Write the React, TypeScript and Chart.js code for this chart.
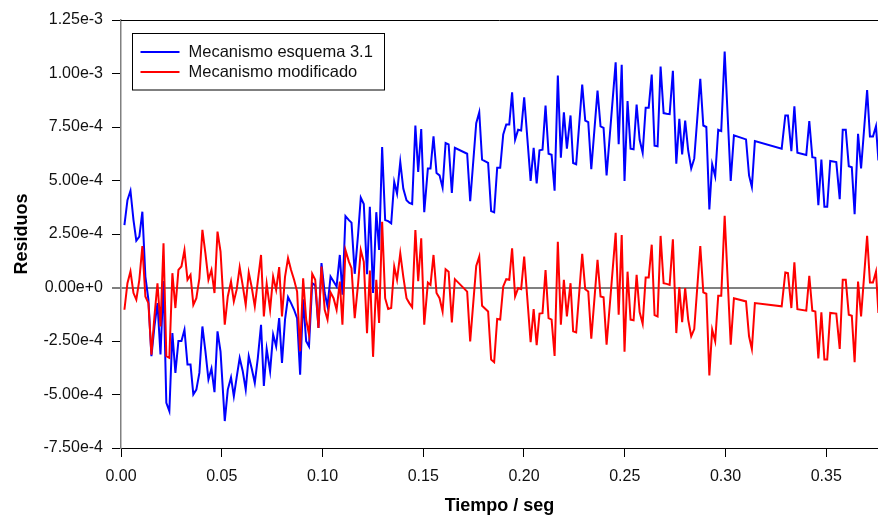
import React, { useEffect, useRef } from "react";
import { Chart, registerables } from "chart.js";

Chart.register(...registerables);

// Tiempo (s)
const tiempo = [
  0.0017, 0.0032, 0.0047, 0.0062, 0.0076, 0.0091, 0.0106, 0.0121, 0.0136, 0.0151,
  0.0166, 0.0181, 0.0196, 0.0211, 0.0225, 0.024, 0.0255, 0.027, 0.0285, 0.03,
  0.0315, 0.033, 0.0345, 0.0359, 0.0374, 0.0389, 0.0404, 0.0419, 0.0434, 0.0449,
  0.0464, 0.0479, 0.0494, 0.0515, 0.053, 0.0546, 0.056, 0.0574, 0.0589, 0.0604,
  0.0619, 0.0634, 0.0649, 0.0664, 0.0679, 0.0695, 0.0709, 0.0723, 0.074, 0.0755,
  0.077, 0.0785, 0.0799, 0.0814, 0.0829, 0.0844, 0.0859, 0.0874, 0.0889, 0.0904,
  0.0919, 0.0933, 0.0949, 0.0964, 0.098, 0.0995, 0.1011, 0.1025, 0.104, 0.1055,
  0.107, 0.1086, 0.1099, 0.1114, 0.1131, 0.1144, 0.116, 0.1177, 0.119, 0.1205,
  0.1221, 0.1235, 0.1251, 0.1267, 0.1281, 0.1296, 0.1311, 0.1326, 0.1341, 0.1356,
  0.137, 0.1386, 0.1401, 0.1417, 0.1431, 0.1445, 0.1461, 0.1475, 0.149, 0.1505,
  0.1523, 0.1536, 0.1551, 0.1566, 0.1581, 0.1596, 0.1611, 0.1626, 0.1642, 0.1657,
  0.1718, 0.1733, 0.1763, 0.1778, 0.1792, 0.1822, 0.1837, 0.1852, 0.1867, 0.1882,
  0.1897, 0.1912, 0.1927, 0.1941, 0.1956, 0.1971, 0.1986, 0.2001, 0.2033, 0.2048,
  0.2063, 0.2077, 0.2092, 0.2107, 0.2122, 0.2137, 0.2152, 0.2168, 0.2183, 0.2198,
  0.2213, 0.2231, 0.2244, 0.2259, 0.2289, 0.2304, 0.2319, 0.2334, 0.2365, 0.238,
  0.2395, 0.241, 0.2455, 0.247, 0.2485, 0.2499, 0.2514, 0.2529, 0.2544, 0.2559,
  0.2574, 0.2589, 0.2604, 0.2619, 0.2634, 0.2648, 0.2663, 0.2678, 0.2693, 0.2708,
  0.2723, 0.2739, 0.2756, 0.2771, 0.2785, 0.28, 0.2815, 0.283, 0.2845, 0.2875,
  0.289, 0.2905, 0.292, 0.2934, 0.2949, 0.2964, 0.2979, 0.2996, 0.3026, 0.3042,
  0.3102, 0.3117, 0.3131, 0.3146, 0.3279, 0.3297, 0.331, 0.3327, 0.3342, 0.3357,
  0.3401, 0.3416, 0.3431, 0.3446, 0.3461, 0.3476, 0.3491, 0.3505, 0.352, 0.355,
  0.3567, 0.3582, 0.3597, 0.3612, 0.3627, 0.3641, 0.3658, 0.3673, 0.3703, 0.3717,
  0.3732, 0.3747, 0.3759,
];

// Residuos, en unidades de 1e-4
const esquema31 = [
  2.92, 4.08, 4.52, 3.15, 2.19, 2.38, 3.54, 0.51, -0.57, -3.21,
  -1.82, -0.73, -3.13, 0.3, -5.39, -5.78, -2.13, -3.99, -2.5, -2.5,
  -1.97, -3.6, -3.6, -5.0, -4.77, -3.99, -1.82, -2.98, -4.3, -3.79,
  -4.89, -2.05, -3.0, -6.24, -4.77, -4.2, -5.08, -4.2, -3.29, -3.9,
  -4.77, -3.21, -3.8, -4.46, -3.3, -1.74, -4.6, -2.87, -3.91, -2.2,
  -2.75, -1.43, -3.52, -1.5, -0.45, -0.73, -1.04, -1.43, -4.07, -0.55,
  -2.51, -2.75, 0.2, 0.1, -1.89, 1.14, -0.26, -0.88, 0.51, 0.28,
  0.05, 1.52, -0.34, 3.34, 3.15, 3.03, 0.64, 2.53, 4.2, 3.9,
  0.62, 3.77, -0.26, 3.52, 1.75, 6.56, 3.15, 3.1, 3.0, 4.93,
  4.39, 5.87, 4.62, 4.08, 3.95, 3.9, 7.57, 5.4, 7.4, 3.52,
  5.56, 5.56, 7.06, 5.35, 5.24, 4.67, 6.75, 6.69, 4.42, 6.53,
  6.25, 4.03, 7.68, 8.19, 5.97, 5.82, 3.57, 3.51, 5.6, 5.6,
  7.15, 7.62, 7.62, 9.12, 6.91, 7.37, 7.34, 8.89, 4.98, 6.53,
  4.86, 6.41, 6.44, 8.5, 6.25, 6.2, 4.52, 9.9, 6.07, 8.19,
  6.49, 8.04, 5.82, 5.76, 9.48, 7.8, 7.73, 5.53, 9.2, 7.53,
  7.46, 5.24, 10.52, 6.69, 10.41, 4.98, 8.71, 6.49, 6.46, 8.55,
  6.9, 6.3, 8.4, 8.4, 9.95, 6.63, 6.6, 10.32, 8.15, 8.12,
  8.1, 10.13, 5.79, 7.88, 6.22, 7.8, 6.4, 5.56, 6.02, 9.75,
  7.57, 7.5, 3.65, 5.76, 5.2, 7.37, 7.31, 11.03, 4.98, 7.11,
  6.92, 5.24, 4.7, 6.84, 6.49, 8.04, 8.04, 6.37, 8.47, 6.3,
  6.19, 7.78, 6.09, 6.06, 3.85, 5.98, 3.77, 3.77, 5.91, 5.86,
  4.13, 7.37, 7.37, 5.67, 5.62, 3.43, 7.18, 5.56, 9.23, 7.06,
  7.06, 7.54, 5.94,
];

const modificado = [
  -1.04, 0.2, 0.75, -0.26, -0.57, 0.36, 1.94, -0.42, -0.73, -3.14,
  -1.35, 0.2, -1.82, 2.07, -3.21, -3.29, 0.67, -0.96, 0.82, 0.98,
  1.75, 0.36, 0.59, -0.81, -0.5, 0.43, 2.69, 1.6, 0.36, 0.82,
  -0.26, 2.61, 1.68, -1.74, -0.42, 0.28, -0.65, -0.1, 0.95, 0.1,
  -0.81, 0.7, 0.0, -0.88, 0.3, 1.52, -1.35, 0.17, -1.04, 0.51,
  -0.11, 0.95, -1.35, 0.5, 1.37, 0.82, 0.36, -0.19, -2.98, 0.43,
  -1.5, -2.2, 0.64, 0.36, -1.89, 0.98, -1.04, -1.5, -0.23, -0.5,
  -1.04, 0.28, -1.74, 1.75, 1.21, 0.9, -1.43, 0.2, 1.75, 1.2,
  -2.13, 0.79, -3.24, 0.36, -1.66, 3.07, -0.5, -1.0, -0.96, 0.98,
  0.36, 1.6, 0.51, -0.5, -0.73, -0.92, 2.69, 0.3, 2.3, -1.74,
  0.23, 0.12, 1.52, -0.26, -0.5, -1.12, 0.85, 0.74, -1.63, 0.39,
  -0.19, -2.52, 1.01, 1.44, -0.85, -1.12, -3.37, -3.49, -1.47, -1.5,
  0.05, 0.39, 0.36, 1.83, -0.42, -0.03, -0.08, 1.44, -2.56, -1.01,
  -2.7, -1.22, -1.2, 0.82, -1.43, -1.5, -3.2, 2.14, -1.74, 0.36,
  -1.35, 0.2, -2.05, -2.1, 1.57, -0.08, -0.19, -2.39, 1.29, -0.42,
  -0.46, -2.67, 2.56, -1.27, 2.45, -3.0, 0.74, -1.5, -1.53, 0.59,
  -1.15, -1.69, 0.47, 0.47, 2.0, -1.29, -1.35, 2.41, 0.2, 0.17,
  0.12, 2.25, -2.13, 0.02, -1.62, -0.03, -1.5, -2.28, -1.94, 1.94,
  -0.23, -0.29, -4.11, -1.97, -2.51, -0.39, -0.39, 3.35, -2.67, -0.5,
  -0.65, -2.28, -2.87, -0.73, -0.88, 0.7, 0.67, -0.96, 1.18, -1.01,
  -1.08, 0.54, -1.08, -1.12, -3.32, -1.16, -3.37, -3.37, -1.19, -1.22,
  -2.87, 0.36, 0.36, -1.27, -1.32, -3.49, 0.28, -1.35, 2.41, 0.23,
  0.23, 0.74, -1.19,
];

const ESCALA = 1e-4;
const nombresSeries = ["Mecanismo esquema 3.1", "Mecanismo modificado"];
const coloresSeries = ["#0000ff", "#ff0000"];
const tituloX = "Tiempo / seg";
const tituloY = "Residuos";

const FONT = '"Liberation Sans", Arial, Helvetica, sans-serif';

export default function App() {
  const ref = useRef<HTMLCanvasElement>(null);

  useEffect(() => {
    const canvas = ref.current;
    if (!canvas) return;
    const toPts = (vals: number[]) =>
      tiempo.map((t, i) => ({ x: t, y: vals[i] * ESCALA }));

    const decor = {
      id: "decor",
      afterDraw(chart: any) {
        const { ctx, chartArea: a } = chart;
        ctx.save();
        // top frame line
        ctx.strokeStyle = "#000";
        ctx.lineWidth = 1;
        ctx.beginPath();
        ctx.moveTo(a.left, Math.round(a.top) + 0.5);
        ctx.lineTo(a.right, Math.round(a.top) + 0.5);
        ctx.stroke();
        // legend box
        const x0 = Math.round(a.left) + 11.5;
        const y0 = Math.round(a.top) + 13.5;
        const w = 252;
        const h = 56.5;
        ctx.fillStyle = "#fff";
        ctx.fillRect(x0, y0, w, h);
        ctx.strokeStyle = "#000";
        ctx.lineWidth = 1;
        ctx.strokeRect(x0, y0, w, h);
        chart.data.datasets.forEach((ds: any, i: number) => {
          const y = y0 + 18.5 + i * 20;
          ctx.strokeStyle = ds.borderColor;
          ctx.lineWidth = 2;
          ctx.beginPath();
          ctx.moveTo(x0 + 8, y);
          ctx.lineTo(x0 + 47, y);
          ctx.stroke();
          ctx.fillStyle = "#111";
          ctx.font = `16.5px ${FONT}`;
          ctx.textBaseline = "middle";
          ctx.textAlign = "left";
          ctx.fillText(ds.label, x0 + 56, y + 0.5);
        });
        ctx.restore();
      },
    };

    const chart = new Chart(canvas, {
      type: "line",
      data: {
        datasets: [
          {
            label: nombresSeries[0],
            data: toPts(esquema31),
            borderColor: coloresSeries[0],
            backgroundColor: coloresSeries[0],
            borderWidth: 2,
            pointRadius: 0,
            fill: false,
            tension: 0,
            order: 1,
          },
          {
            label: nombresSeries[1],
            data: toPts(modificado),
            borderColor: coloresSeries[1],
            backgroundColor: coloresSeries[1],
            borderWidth: 2,
            pointRadius: 0,
            fill: false,
            tension: 0,
            order: 0,
          },
        ],
      },
      options: {
        animation: false,
        responsive: false,
        maintainAspectRatio: false,
        layout: { padding: { top: 20, right: 0, left: 0, bottom: 0 } },
        plugins: {
          legend: { display: false },
          tooltip: { enabled: false },
        },
        scales: {
          x: {
            type: "linear",
            min: 0,
            max: 0.3757,
            afterFit: (s: any) => {
              s.height = 67;
            },
            ticks: {
              stepSize: 0.05,
              includeBounds: false,
              maxRotation: 0,
              autoSkip: false,
              padding: 10,
              color: "#111",
              font: { family: FONT, size: 16 },
              callback: (v: any) => Number(v).toFixed(2),
            },
            grid: {
              drawOnChartArea: false,
              drawTicks: true,
              tickLength: 9,
              tickColor: "#000",
              tickWidth: 1,
            },
            border: { display: true, color: "#000", width: 1 },
            title: {
              display: true,
              text: tituloX,
              color: "#000",
              font: { family: FONT, size: 18, weight: "bold" },
              padding: { top: 0, bottom: -2 },
            },
          },
          y: {
            type: "linear",
            min: -7.5e-4,
            max: 1.25e-3,
            afterFit: (s: any) => {
              s.width = 121;
            },
            ticks: {
              stepSize: 2.5e-4,
              includeBounds: false,
              padding: 9,
              color: "#111",
              font: { family: FONT, size: 16 },
              callback: (v: any) => {
                const n = Math.abs(Number(v)) < 1e-12 ? 0 : Number(v);
                return n.toExponential(2);
              },
            },
            grid: {
              drawOnChartArea: true,
              drawTicks: true,
              tickLength: 9,
              tickColor: "#000",
              tickWidth: 1,
              color: (c: any) =>
                c.tick && Math.abs(c.tick.value) < 1e-12 ? "#808080" : "rgba(0,0,0,0)",
              lineWidth: (c: any) =>
                c.tick && Math.abs(c.tick.value) < 1e-12 ? 2 : 1,
            },
            border: { display: true, color: "#808080", width: 1.5 },
            title: {
              display: true,
              text: tituloY,
              color: "#000",
              font: { family: FONT, size: 18, weight: "bold" },
              padding: { top: 11, bottom: 0 },
            },
          },
        },
      },
      plugins: [decor],
    } as any);

    return () => chart.destroy();
  }, []);

  return (
    <div
      style={{
        position: "fixed",
        left: 0,
        top: 0,
        width: 878,
        height: 515,
        background: "#fff",
      }}
    >
      <canvas ref={ref} width={878} height={515} style={{ display: "block" }} />
    </div>
  );
}
